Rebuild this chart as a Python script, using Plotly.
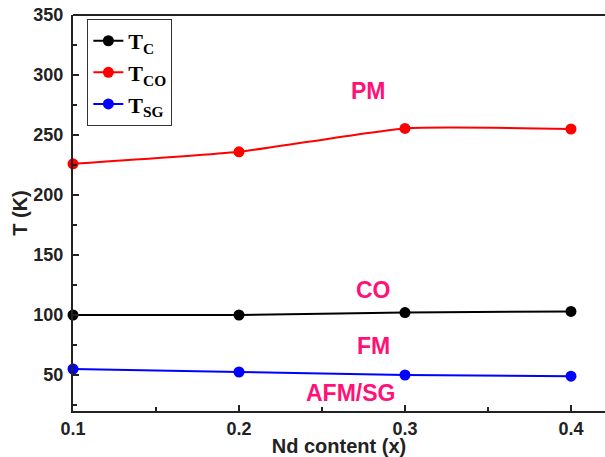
import plotly.graph_objects as go

x_vals = [0.1, 0.2, 0.3, 0.4]
tc_vals = [100, 100, 102, 103]
tco_vals = [226, 236, 255.5, 255]
tsg_vals = [55, 52.5, 50, 49]

series_names = ["T<sub>C</sub>", "T<sub>CO</sub>", "T<sub>SG</sub>"]
series_colors = ["#000000", "#FF0000", "#0000FF"]

region_labels = ["PM", "CO", "FM", "AFM/SG"]
region_x = [0.278, 0.281, 0.281, 0.267]
region_y = [287, 121, 74, 35]

y_ticks = [50, 100, 150, 200, 250, 300, 350]
x_ticks = [0.1, 0.2, 0.3, 0.4]

fig = go.Figure()
for name, vals, col in zip(series_names, [tc_vals, tco_vals, tsg_vals], series_colors):
    fig.add_trace(go.Scatter(
        x=x_vals, y=vals, name="<b>" + name + "</b>", mode="lines+markers",
        line=dict(color=col, width=2, shape="spline", smoothing=0.5),
        marker=dict(color=col, size=11, line=dict(color=col, width=0)),
        cliponaxis=False,
    ))

for t, xv, yv in zip(region_labels, region_x, region_y):
    fig.add_annotation(x=xv, y=yv, text="<b>" + t + "</b>", showarrow=False,
                       font=dict(family="Liberation Sans", size=23, color="#FF1177"))

axis_font = dict(family="Liberation Sans", size=18, color="#222222")

fig.update_layout(
    width=605, height=457,
    margin=dict(l=73, r=0, t=15, b=46),
    paper_bgcolor="white", plot_bgcolor="white",
    showlegend=True,
    legend=dict(
        x=0.027, y=0.99, xanchor="left", yanchor="top",
        bordercolor="#333333", borderwidth=1, bgcolor="white",
        font=dict(family="Liberation Serif", size=22, color="black"),
        tracegroupgap=0, itemwidth=30,
    ),
    xaxis=dict(
        range=[0.1, 0.4205], tickvals=x_ticks, ticktext=["<b>%g</b>" % v for v in x_ticks],
        ticks="inside", ticklen=6, tickwidth=1.5, tickcolor="#222222",
        showline=True, linecolor="#222222", linewidth=2, showgrid=False, zeroline=False,
        tickfont=axis_font,
        minor=dict(dtick=0.05, tick0=0.1, ticks="inside", ticklen=4, tickwidth=1.5, tickcolor="#222222", showgrid=False),
        title=dict(text="<b>Nd content (x)</b>", font=dict(family="Liberation Sans", size=20, color="#222222"), standoff=0),
    ),
    yaxis=dict(
        range=[20, 350], tickvals=y_ticks, ticktext=["<b>%d</b>" % v for v in y_ticks],
        ticks="inside", ticklen=6, tickwidth=1.5, tickcolor="#222222",
        showline=True, linecolor="#222222", linewidth=2, showgrid=False, zeroline=False,
        tickfont=axis_font, ticklabelstandoff=4,
        minor=dict(dtick=25, tick0=0, ticks="inside", ticklen=4, tickwidth=1.5, tickcolor="#222222", showgrid=False),
        title=dict(text="<b>T (K)</b>", font=dict(family="Liberation Sans", size=20, color="#222222"), standoff=0),
    ),
    shapes=[
        dict(type="line", xref="paper", yref="paper", x0=0, x1=1, y0=1, y1=1,
             line=dict(color="#222222", width=2)),
    ],
)

fig.write_html("out.html")
